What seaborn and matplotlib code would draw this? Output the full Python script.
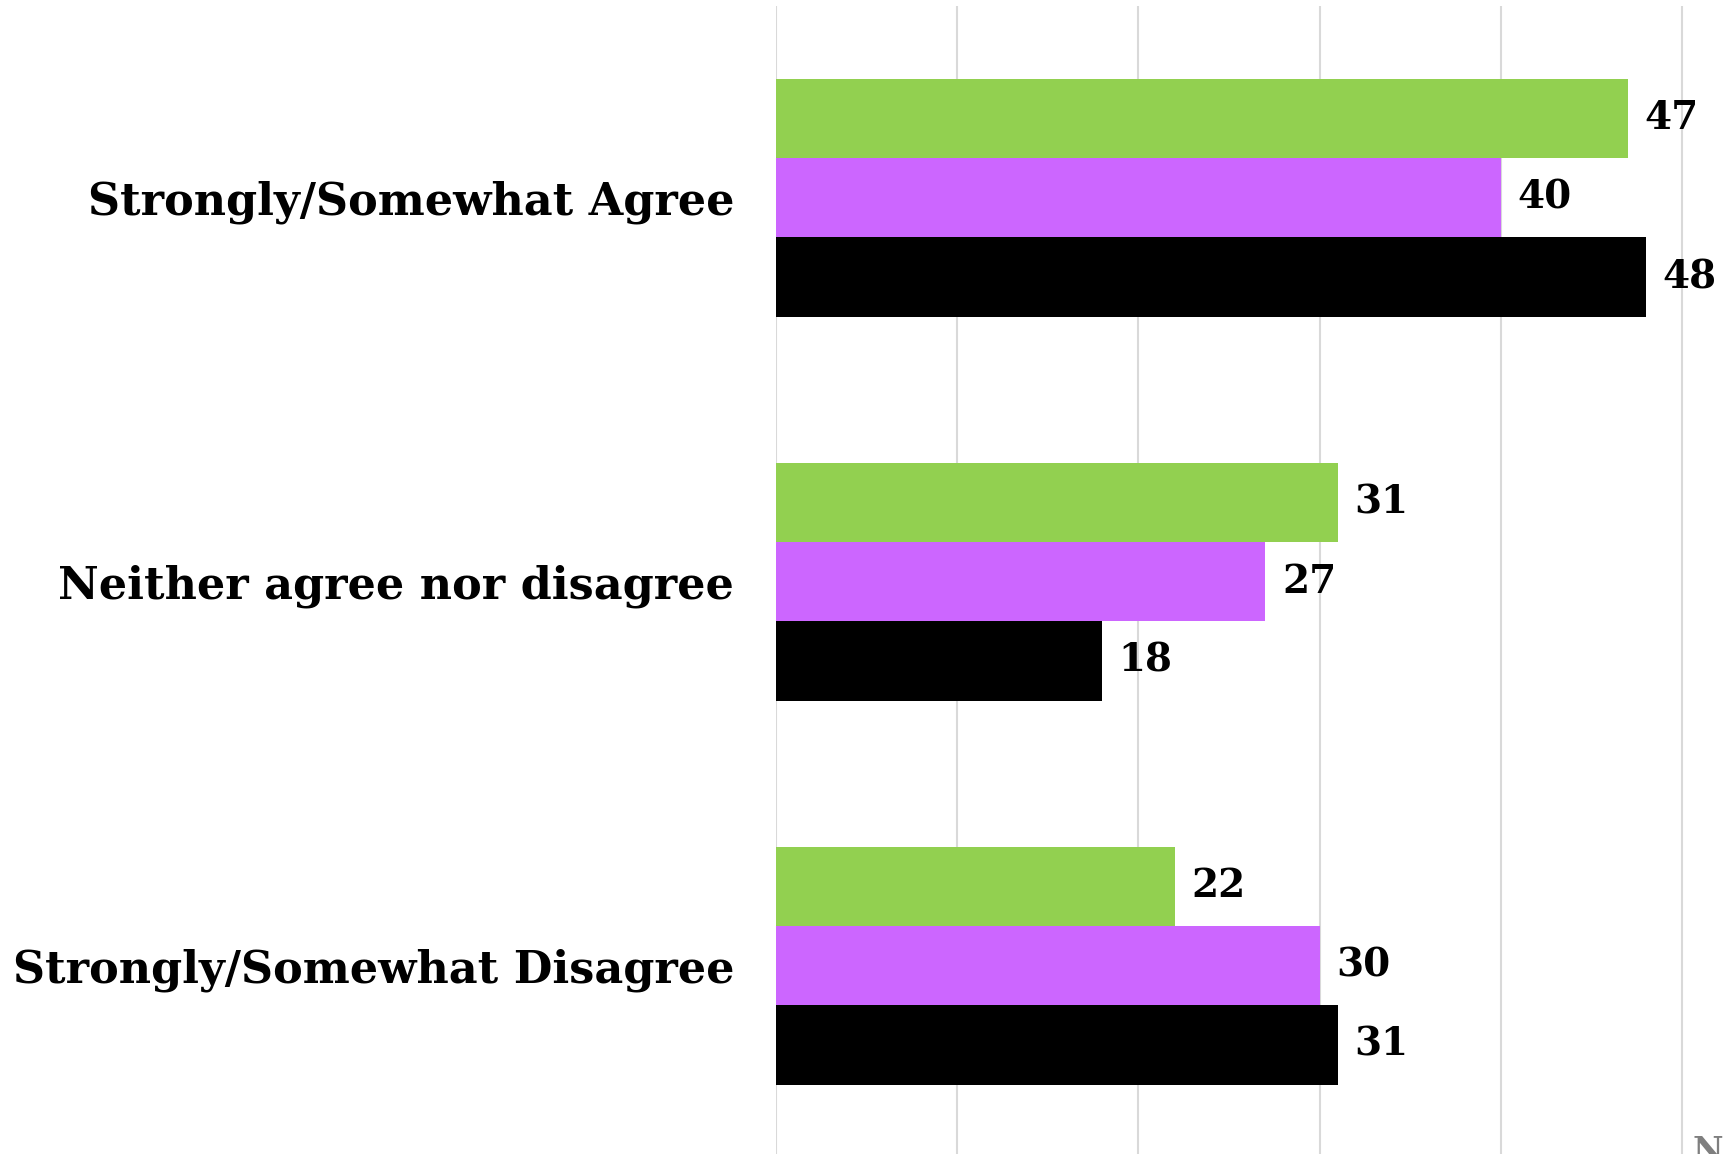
import pandas as pd
import numpy as np
import matplotlib
matplotlib.use("Agg")
import matplotlib.pyplot as plt
import seaborn as sns

# data
categories = ["Strongly/Somewhat Agree", "Neither agree nor disagree", "Strongly/Somewhat Disagree"]
series = ["Series 1", "Series 2", "Series 3"]
values_s1 = [47, 31, 22]
values_s2 = [40, 27, 30]
values_s3 = [48, 18, 31]
palette = ["#92D050", "#CC66FF", "#000000"]

df = pd.DataFrame({
    "category": categories * 3,
    "series":   [series[0]] * 3 + [series[1]] * 3 + [series[2]] * 3,
    "value":    values_s1 + values_s2 + values_s3,
})

sns.set_theme(style="white")
plt.rcParams["font.family"] = ["DejaVu Serif"]

fig = plt.figure(figsize=(17.24, 11.54), dpi=100)
ax = fig.add_axes([0.450, -0.003, 0.55, 0.998])

sns.barplot(data=df, y="category", x="value", hue="series", order=categories,
            hue_order=series, palette=palette, orient="h", width=0.62, gap=0,
            saturation=1, legend=False, ax=ax, zorder=3, linewidth=0)

for cont in ax.containers:
    ax.bar_label(cont, labels=[f"{v:.0f}" for v in cont.datavalues], padding=12,
                 fontsize=28, fontweight="bold", color="black")

ax.set_xlim(0, 52.3)
ax.set_ylim(2.5, -0.5)
ax.set_xticks(np.arange(0, 60, 10))
ax.set_xticklabels([])
ax.xaxis.grid(True, color="#D9D9D9", linewidth=1.5, zorder=0)
ax.yaxis.grid(False)
ax.set_axisbelow(True)
for s in ax.spines.values():
    s.set_visible(False)
ax.tick_params(axis="y", length=0, pad=30, labelsize=32, labelcolor="black")
ax.tick_params(axis="x", length=0)
for lbl in ax.get_yticklabels():
    lbl.set_fontweight("bold")
ax.set_xlabel("")
ax.set_ylabel("")

# cut-off note at the bottom right corner, as in the reference
fig.text(0.982, -0.012, "N", fontsize=24, fontweight="bold", color="#7F7F7F",
         ha="left", va="bottom")

fig.savefig("out.png", dpi=100)
